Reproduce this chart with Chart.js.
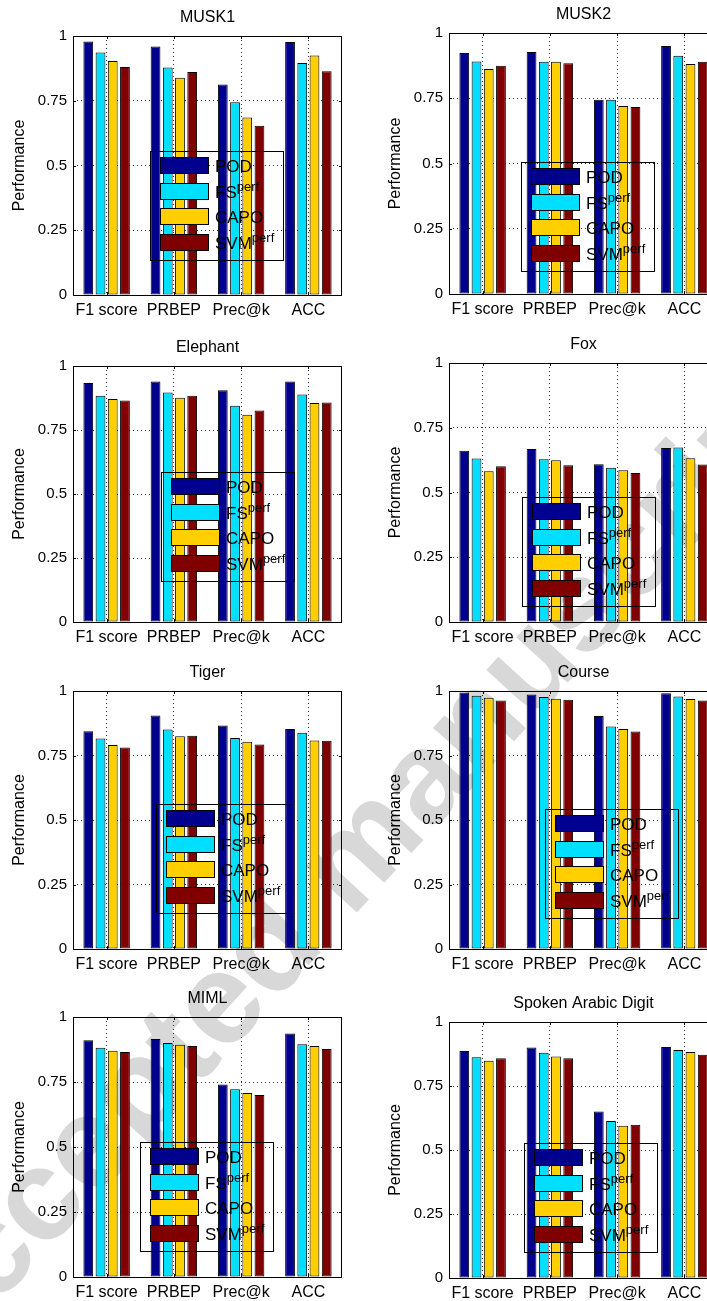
<!DOCTYPE html>
<html>
<head>
<meta charset="utf-8">
<script src="https://cdn.jsdelivr.net/npm/chart.js@4.4.1/dist/chart.umd.min.js"></script>
<style>
html,body{margin:0;padding:0;background:#fff;overflow:hidden;}
#page{position:relative;width:707px;height:1301px;overflow:hidden;background:#fff;}
#wm{position:absolute;left:-150px;top:1303px;transform-origin:0 0;transform:rotate(-47.5deg);
  font:bold 130px "Liberation Sans",Arial,sans-serif;line-height:130px;color:rgb(216,216,216);white-space:nowrap;}
.panel{position:absolute;}
.panel canvas{display:block;}
</style>
</head>
<body>
<div id="page"><div id="wm">Accepted manuscript</div></div>
<script>
// ---------- data ----------
const categories = ['F1 score', 'PRBEP', 'Prec@k', 'ACC'];
const seriesNames = ['POD', 'FS', 'CAPO', 'SVM'];
const seriesSup = ['', 'perf', '', 'perf'];
const yTickValues = [0, 0.25, 0.5, 0.75, 1];
const yTickLabels = ['0', '0.25', '0.5', '0.75', '1'];
const panelTitles = ['MUSK1', 'MUSK2', 'Elephant', 'Fox', 'Tiger', 'Course', 'MIML', 'Spoken Arabic Digit'];
const yAxisTitle = 'Performance';

// rows: POD, FS, CAPO, SVM ; columns follow categories
const musk1 = [
  [0.979, 0.959, 0.813, 0.977],
  [0.936, 0.878, 0.744, 0.896],
  [0.903, 0.839, 0.685, 0.925],
  [0.880, 0.861, 0.653, 0.864]
];
const musk2 = [
  [0.923, 0.927, 0.744, 0.950],
  [0.891, 0.890, 0.744, 0.913],
  [0.862, 0.890, 0.720, 0.881],
  [0.875, 0.884, 0.716, 0.890]
];
const elephant = [
  [0.934, 0.939, 0.905, 0.939],
  [0.884, 0.896, 0.845, 0.889],
  [0.871, 0.876, 0.810, 0.855],
  [0.865, 0.884, 0.826, 0.857]
];
const fox = [
  [0.661, 0.668, 0.609, 0.672],
  [0.631, 0.628, 0.596, 0.674],
  [0.582, 0.625, 0.586, 0.632],
  [0.601, 0.605, 0.575, 0.608]
];
const tiger = [
  [0.844, 0.905, 0.866, 0.853],
  [0.816, 0.851, 0.818, 0.838],
  [0.791, 0.825, 0.803, 0.808],
  [0.781, 0.827, 0.793, 0.807]
];
const course = [
  [0.994, 0.986, 0.903, 0.991],
  [0.982, 0.977, 0.862, 0.979],
  [0.974, 0.970, 0.853, 0.969],
  [0.963, 0.966, 0.843, 0.963]
];
const miml = [
  [0.911, 0.915, 0.740, 0.937],
  [0.882, 0.900, 0.722, 0.895],
  [0.870, 0.893, 0.708, 0.888],
  [0.865, 0.888, 0.700, 0.877]
];
const spoken = [
  [0.887, 0.900, 0.650, 0.902],
  [0.862, 0.880, 0.613, 0.891],
  [0.849, 0.865, 0.595, 0.883],
  [0.858, 0.858, 0.599, 0.872]
];
const panelValues = [musk1, musk2, elephant, fox, tiger, course, miml, spoken];

// ---------- styles / layout ----------
const seriesColors = ['#00008F', '#00DFFF', '#FFCF00', '#800000'];
const FONT = '"Liberation Sans", Arial, Helvetica, sans-serif';
const Y_AXIS_W = 73, PLOT_W = 269, PAD_R = 8, TOP_BLOCK = 28, X_AXIS_H = 30;
const LG_W = 133, LG_H = 109;
const panelLayout = [
  {left: 0,   top: 36,   bottom: 295,  legend: [77, 115]},
  {left: 376, top: 33,   bottom: 294,  legend: [72, 129]},
  {left: 0,   top: 366,  bottom: 622,  legend: [88, 106]},
  {left: 376, top: 363,  bottom: 622,  legend: [73, 134]},
  {left: 0,   top: 691,  bottom: 949,  legend: [83, 113]},
  {left: 376, top: 691,  bottom: 949,  legend: [96, 118]},
  {left: 0,   top: 1017, bottom: 1277, legend: [67, 125]},
  {left: 376, top: 1022, bottom: 1278, legend: [75, 121]}
];

Chart.defaults.font.family = FONT;
Chart.defaults.color = '#000';

const matlabAxes = {
  id: 'matlabAxes',
  afterLayout(chart) {
    const a = chart.chartArea;
    if (chart.titleBlock) { chart.titleBlock.left = a.left; chart.titleBlock.right = a.right; }
  },
  afterDatasetsDraw(chart, args, opts) {
    const {ctx, chartArea: a, scales: {x, y}} = chart;
    ctx.save();
    ctx.strokeStyle = '#000';
    ctx.lineWidth = 1;
    const tl = 3;
    ctx.beginPath();
    x.ticks.forEach((t, i) => {
      const px = Math.round(x.getPixelForTick(i)) + 0.5;
      ctx.moveTo(px, a.bottom); ctx.lineTo(px, a.bottom - tl);
      ctx.moveTo(px, a.top); ctx.lineTo(px, a.top + tl);
    });
    y.ticks.forEach((t, i) => {
      const py = Math.round(y.getPixelForTick(i)) + 0.5;
      ctx.moveTo(a.left, py); ctx.lineTo(a.left + tl, py);
      ctx.moveTo(a.right, py); ctx.lineTo(a.right - tl, py);
    });
    ctx.stroke();
    ctx.strokeRect(Math.round(a.left) + 0.5, Math.round(a.top) + 0.5,
                   Math.round(a.right - a.left) - 1, Math.round(a.bottom - a.top));
    // legend
    const bx = Math.round(a.left + opts.box[0]), by = Math.round(a.top + opts.box[1]);
    ctx.strokeRect(bx + 0.5, by + 0.5, LG_W, LG_H);
    chart.data.datasets.forEach((ds, i) => {
      const sy = Math.round(by + 6 + i * 25.7);
      ctx.fillStyle = ds.backgroundColor;
      ctx.fillRect(bx + 10, sy, 49, 17);
      ctx.strokeRect(bx + 10.5, sy + 0.5, 48, 16);
      ctx.fillStyle = '#000';
      ctx.textBaseline = 'alphabetic';
      ctx.textAlign = 'left';
      ctx.font = '17px ' + FONT;
      const base = sy + 8.5 + 6;
      ctx.fillText(ds.label, bx + 65, base);
      if (opts.sup[i]) {
        const w = ctx.measureText(ds.label).width;
        ctx.font = '13px ' + FONT;
        ctx.fillText(opts.sup[i], bx + 65 + w, base - 7);
      }
    });
    ctx.restore();
  }
};

const page = document.getElementById('page');
panelValues.forEach((vals, p) => {
  const L = panelLayout[p];
  const plotH = L.bottom - L.top;
  const W = Y_AXIS_W + PLOT_W + PAD_R;
  const H = TOP_BLOCK + plotH + X_AXIS_H;
  const div = document.createElement('div');
  div.className = 'panel';
  div.style.left = L.left + 'px';
  div.style.top = (L.top - TOP_BLOCK) + 'px';
  div.style.width = W + 'px';
  div.style.height = H + 'px';
  const cv = document.createElement('canvas');
  cv.width = W; cv.height = H;
  cv.style.width = W + 'px'; cv.style.height = H + 'px';
  div.appendChild(cv);
  page.appendChild(div);

  new Chart(cv, {
    type: 'bar',
    data: {
      labels: categories,
      datasets: vals.map((row, i) => ({
        label: seriesNames[i],
        data: row,
        backgroundColor: seriesColors[i],
        borderColor: '#000',
        borderWidth: 1,
        borderSkipped: false,
        categoryPercentage: 0.727,
        barPercentage: 0.8
      }))
    },
    options: {
      responsive: false,
      animation: false,
      devicePixelRatio: 1,
      layout: {padding: {top: 0, left: 0, right: PAD_R, bottom: 0}},
      plugins: {
        legend: {display: false},
        tooltip: {enabled: false},
        title: {display: true, text: panelTitles[p], color: '#000',
                font: {size: 16, weight: 'normal', family: FONT}, padding: {top: 0, bottom: 8.8}},
        matlabAxes: {box: L.legend, sup: seriesSup}
      },
      scales: {
        x: {
          type: 'category',
          offset: true,
          grid: {display: true, offset: false, color: '#333', lineWidth: 1, drawTicks: false},
          border: {display: false, dash: [1, 3]},
          ticks: {font: {size: 16, family: FONT}, color: '#000', padding: 6, maxRotation: 0, autoSkip: false},
          afterFit: s => { s.height = X_AXIS_H; }
        },
        y: {
          min: 0, max: 1,
          afterBuildTicks: s => { s.ticks = yTickValues.map(v => ({value: v})); },
          ticks: {font: {size: 15, family: FONT}, color: '#000', padding: 6,
                  callback: v => { const k = yTickValues.indexOf(v); return k >= 0 ? yTickLabels[k] : ''; }},
          grid: {color: '#333', lineWidth: 1, drawTicks: false},
          border: {display: false, dash: [1, 3]},
          title: {display: true, text: yAxisTitle, color: '#000', font: {size: 16, family: FONT},
                  padding: {top: 10, bottom: 0}},
          afterFit: s => { s.width = Y_AXIS_W; }
        }
      }
    },
    plugins: [matlabAxes]
  });
});
</script>
</body>
</html>
